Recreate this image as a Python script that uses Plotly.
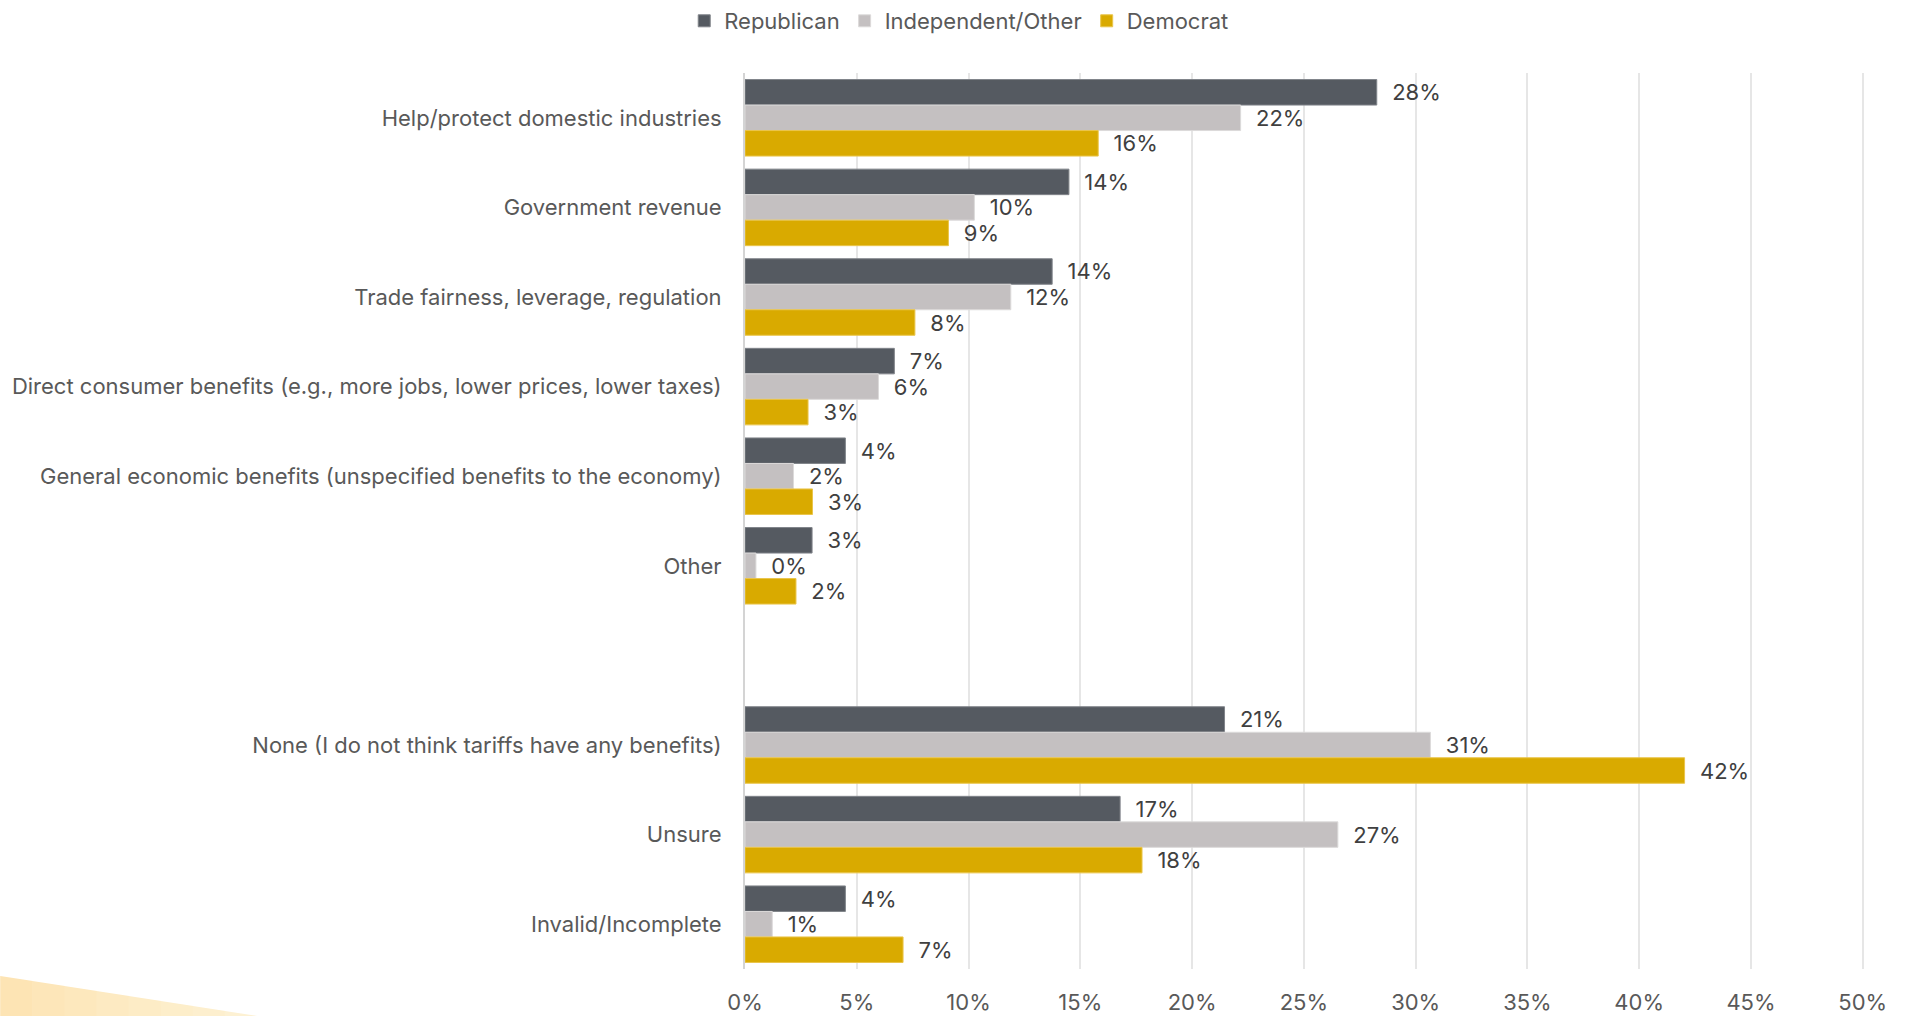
import plotly.graph_objects as go

# Survey responses: perceived benefits of tariffs, by party (% of respondents)
categories = [
    "Help/protect domestic industries",
    "Government revenue",
    "Trade fairness, leverage, regulation",
    "Direct consumer benefits (e.g., more jobs, lower prices, lower taxes)",
    "General economic benefits (unspecified benefits to the economy)",
    "Other",
    "None (I do not think tariffs have any benefits)",
    "Unsure",
    "Invalid/Incomplete",
]
# blank slot separating the benefit answers from the non-answers
spacer = " "
category_order = categories[:6] + [spacer] + categories[6:]

republican = [28.26, 14.49, 13.74, 6.68, 4.49, 3.00, 21.45, 16.78, 4.49]
independent = [22.17, 10.26, 11.89, 5.97, 2.17, 0.49, 30.66, 26.52, 1.22]
democrat = [15.80, 9.10, 7.60, 2.82, 3.02, 2.28, 42.03, 17.76, 7.07]

x_ticks = [0, 5, 10, 15, 20, 25, 30, 35, 40, 45, 50]
x_tick_labels = ["0%", "5%", "10%", "15%", "20%", "25%", "30%", "35%", "40%", "45%", "50%"]

FONT = "Inter, Liberation Sans, Arial, sans-serif"

series = [
    ("Republican", republican, "#555a61", "#80848a"),
    ("Independent/Other", independent, "#c4c0c1", "#dcdada"),
    ("Democrat", democrat, "#d9aa00", "#eac54a"),
]

fig = go.Figure()
for name, values, color, edge in series:
    fig.add_trace(go.Bar(
        name=name,
        y=categories,
        x=values,
        orientation="h",
        marker=dict(color=color, line=dict(color=edge, width=1)),
        texttemplate="\u00a0\u00a0%{x:.0f}%",
        textposition="outside",
        textfont=dict(family=FONT, size=22, color="#404040"),
        constraintext="none",
        cliponaxis=False,
        hovertemplate="%{y}: %{x:.1f}%<extra>" + name + "</extra>",
    ))

# soft yellow wedge in the lower-left corner, shaded left to right
wedge_colors = ["#fde4b4", "#fde6b9", "#fde8bd", "#fdeac2", "#fdecc6", "#fdeeca", "#fdefce", "#fdf1d3"]
x0, x1 = -0.665, -0.4357
y_top, y_bot = -0.0078, -0.0525
n = len(wedge_colors)
for i, c in enumerate(wedge_colors):
    a = x0 + (x1 - x0) * i / n
    b = x0 + (x1 - x0) * (i + 1) / n
    ya = y_top + (y_bot - y_top) * i / n
    yb = y_top + (y_bot - y_top) * (i + 1) / n
    fig.add_shape(
        type="path", xref="paper", yref="paper", layer="below",
        path=f"M{a},{ya} L{b + 0.0005},{yb} L{b + 0.0005},{y_bot - 0.01} L{a},{y_bot - 0.01} Z",
        fillcolor=c, line=dict(width=0),
    )

fig.update_layout(
    width=1907,
    height=1016,
    margin=dict(l=745, r=42, t=73, b=47, autoexpand=False),
    paper_bgcolor="white",
    plot_bgcolor="white",
    barmode="group",
    bargap=0.146,
    bargroupgap=0,
    font=dict(family=FONT, size=22, color="#595959"),
    legend=dict(
        orientation="h",
        traceorder="normal",
        xref="container", yref="container",
        x=0.503, xanchor="center",
        y=1.0, yanchor="top",
        font=dict(family=FONT, size=22, color="#595959"),
        itemwidth=30,
    ),
    xaxis=dict(
        range=[0, 50.1],
        tickmode="array",
        tickvals=x_ticks,
        ticktext=x_tick_labels,
        showgrid=True,
        gridcolor="#e6e6e6",
        gridwidth=1.5,
        zeroline=False,
        showline=False,
        ticks="",
        ticklabelstandoff=18,
        automargin=False,
        tickfont=dict(family=FONT, size=22, color="#595959"),
        fixedrange=True,
    ),
    yaxis=dict(
        type="category",
        categoryorder="array",
        categoryarray=category_order,
        range=[len(category_order) - 0.5, -0.5],
        showgrid=False,
        zeroline=False,
        showline=True,
        linecolor="#d4d4d4",
        linewidth=2,
        ticks="",
        ticklabelstandoff=17,
        automargin=False,
        tickfont=dict(family=FONT, size=22, color="#595959"),
        fixedrange=True,
    ),
    showlegend=True,
)

fig.write_html("out.html")
